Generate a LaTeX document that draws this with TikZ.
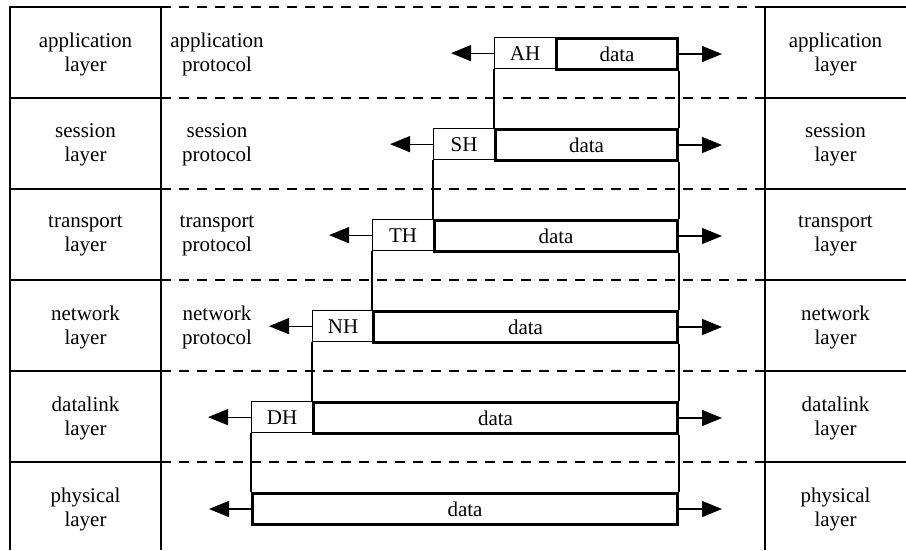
\documentclass[tikz,border=0pt]{standalone}
\usepackage{fontspec}
\setmainfont{Liberation Serif}
\usetikzlibrary{arrows.meta}
\begin{document}
\begin{tikzpicture}[x=1pt,y=-1pt,
  frame/.style={line width=1.3pt},
  divider/.style={line width=1.3pt, dash pattern=on 10pt off 8pt},
  txt/.style={font=\fontsize{21}{24}\selectfont, align=center, inner sep=0pt},
  hdrbox/.style={draw, line width=1.3pt, minimum width=61pt, minimum height=31pt,
    anchor=north west, inner sep=0pt, font=\fontsize{21}{24}\selectfont},
  databox/.style={draw, line width=3pt, minimum height=31pt,
    anchor=north west, inner sep=0pt, font=\fontsize{21}{24}\selectfont},
  flow/.style={line width=1.3pt, -{Triangle[length=20pt,width=16pt]}},
  link/.style={line width=1.3pt}
]
\useasboundingbox (0,0) rectangle (906,550);

% layer columns on both sides
\draw[frame] (10,550) -- (10,7) -- (161,7) -- (161,550);
\draw[frame] (765,550) -- (765,7) -- (906,7);
\foreach \y in {98,189,280,371,462} {
  \draw[frame] (10,\y) -- (161,\y);
  \draw[frame] (765,\y) -- (906,\y);
}
% dashed layer boundaries
\foreach \y in {7,98,189,280,371,462}
  \draw[divider] (161,\y) -- (765,\y);

% layer names
\foreach \i/\name in {0/application,1/session,2/transport,3/network,4/datalink,5/physical} {
  \node[txt] (l\i) at (85.5,{54+91*\i}) {\name\\layer};
  \node[txt] (r\i) at (835.5,{54+91*\i}) {\name\\layer};
}
% peer protocols
\foreach \i/\name in {0/application,1/session,2/transport,3/network}
  \node[txt] (p\i) at (217,{54+91*\i}) {\name\\protocol};

% headers and data units
\foreach \i/\hx/\dx/\hl in {0/494/555/AH,1/433/494/SH,2/372/433/TH,3/312/372/NH,4/251/312/DH} {
  \pgfmathsetmacro{\dw}{676-\dx}
  \node[hdrbox] (h\i) at (\hx,{37+91*\i}) {\hl};
  \node[databox, minimum width=\dw pt] (d\i) at (\dx,{37+91*\i}) {data};
}
\node[databox, minimum width=425pt] (d5) at (251,492) {data};

% encapsulation links between layers
\foreach \i/\j in {0/1,1/2,2/3,3/4,4/5} {
  \draw[link] (h\i.south west) -- (d\j.north west);
  \draw[link] (d\i.south east) -- (d\j.north east);
}

% transfer arrows
\foreach \i in {0,...,4} {
  \draw[flow] (h\i.west) -- ++(-43,0);
  \draw[flow] (d\i.east) -- ++(43,0);
}
\draw[flow] (d5.west) -- ++(-42,0);
\draw[flow] (d5.east) -- ++(43,0);
\end{tikzpicture}
\end{document}
